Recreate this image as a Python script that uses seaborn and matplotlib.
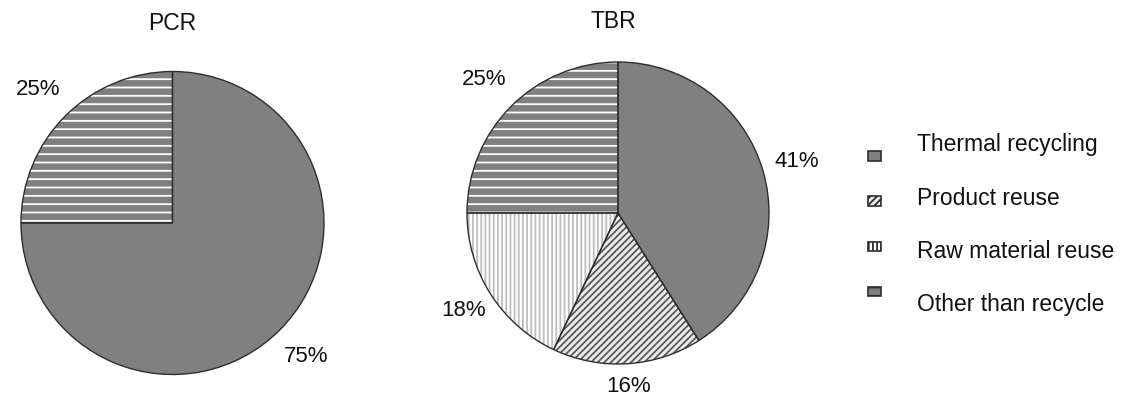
import matplotlib
matplotlib.use("Agg")
import matplotlib.pyplot as plt
from matplotlib.patches import Patch
import numpy as np
import seaborn as sns

sns.set_theme(style="white")
plt.rcParams["font.family"] = ["Liberation Sans", "DejaVu Sans"]
plt.rcParams["hatch.linewidth"] = 1.3

# Data
categories = ["Thermal recycling", "Product reuse", "Raw material reuse", "Other than recycle"]
pcr_values = [75, 0, 0, 25]
tbr_values = [41, 16, 18, 25]

# Fill style per category: face colour, hatch pattern, hatch colour
face_colors = ["#808080", "#ececec", "#ffffff", "#808080"]
hatches = [None, "/////", "||||", "--"]
hatch_colors = ["#808080", "#5a5a5a", "#bdbdbd", "#ffffff"]
outline = "#2e2e2e"

fig = plt.figure(figsize=(11.24, 3.96), dpi=100)

ax_pcr = fig.add_axes([0.01868, 0.0543, 0.26957, 0.76515])
ax_tbr = fig.add_axes([0.41548, 0.0808, 0.26868, 0.76263])


def draw_pie(ax, values, label_dist, title, title_xy):
    vals = np.array(values, dtype=float)
    keep = vals > 0
    v = vals[keep]
    fc = [c for c, k in zip(face_colors, keep) if k]
    hs = [h for h, k in zip(hatches, keep) if k]
    hc = [c for c, k in zip(hatch_colors, keep) if k]

    wedges, _, pcts = ax.pie(
        v, colors=fc, hatch=hs, startangle=90, counterclock=False,
        radius=1.0, autopct="%d%%", pctdistance=1.2,
        textprops=dict(fontsize=16, color="#111111"),
    )
    for w, c in zip(wedges, hc):
        w.set_edgecolor(c)
        w.set_linewidth(0)
    # outlines drawn on top of the hatched fills
    ax.pie(v, colors=["none"] * len(v), startangle=90, counterclock=False,
           radius=1.0, wedgeprops=dict(edgecolor=outline, linewidth=1.0))

    # place each percentage label along its wedge's mid-angle
    for w, t, d in zip(wedges, pcts, label_dist):
        ang = np.deg2rad((w.theta1 + w.theta2) / 2)
        t.set_position((d * np.cos(ang), d * np.sin(ang)))
        t.set_ha("center")
        t.set_va("center")

    ax.set_xlim(-1, 1)
    ax.set_ylim(-1, 1)
    ax.set_aspect("equal")
    ax.axis("off")
    ax.text(title_xy[0], title_xy[1], title, ha="center", va="center",
            fontsize=16.5, color="#111111")


draw_pie(ax_pcr, pcr_values, [1.245, 1.25], "PCR", (0.0, 1.32))
draw_pie(ax_tbr, tbr_values, [1.23, 1.15, 1.21, 1.25], "TBR", (-0.03, 1.265))

# Legend swatches
handles = [Patch(facecolor=f, hatch=h, edgecolor=outline, linewidth=1.2)
           for f, h in zip(face_colors, hatches)]
leg = fig.legend(handles, [" "] * 4, loc="upper left",
                 bbox_to_anchor=(868 / 1124, 1 - 151 / 396),
                 frameon=False, fontsize=8, handlelength=1.15, handleheight=0.95,
                 labelspacing=3.12, borderpad=0, borderaxespad=0, handletextpad=0.2)

# Legend labels
for i, name in enumerate(categories):
    fig.text(917 / 1124, 1 - (145 + 53.3 * i) / 396, name, ha="left", va="center",
             fontsize=16.5, color="#111111")

fig.savefig("out.png", dpi=100)
